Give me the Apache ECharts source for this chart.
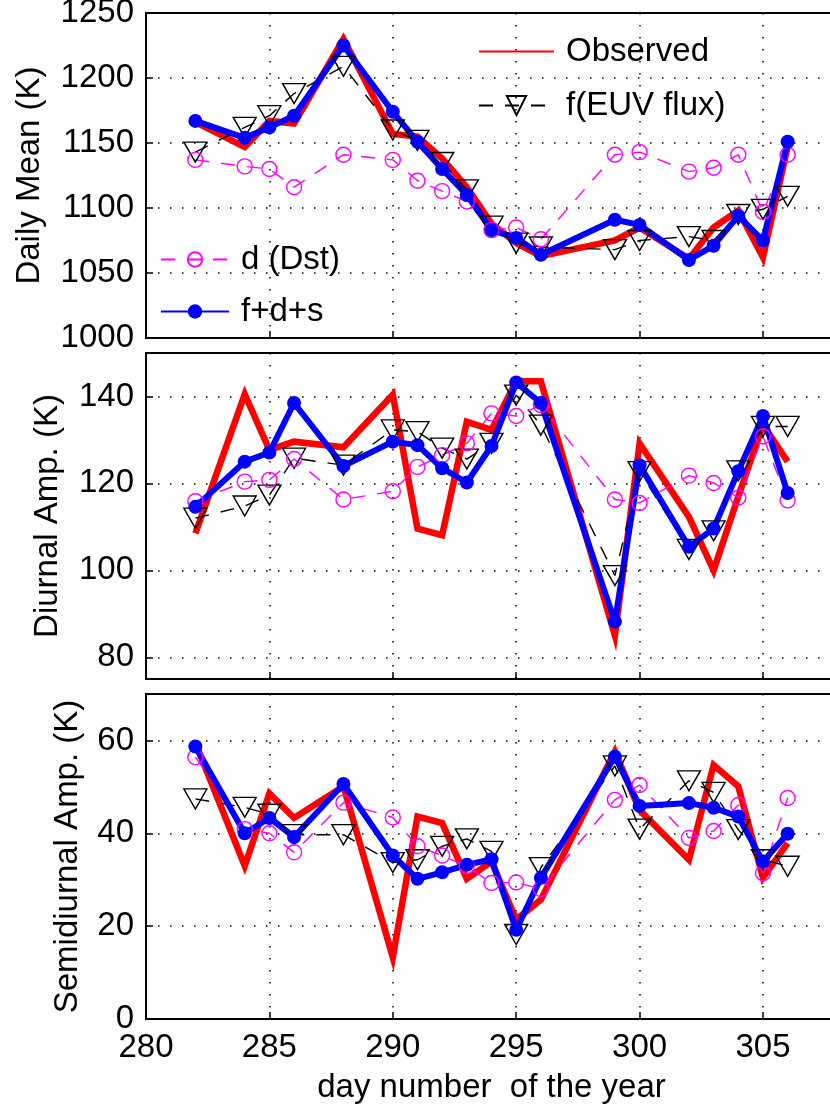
<!DOCTYPE html>
<html lang="en">
<head>
  <meta charset="UTF-8">
  <title>Daily mean, diurnal and semidiurnal amplitude</title>
  <style>
    html, body { margin: 0; padding: 0; background: #fff; }
    #chart { width: 830px; height: 1112px; }
  </style>
  <script src="https://cdn.jsdelivr.net/npm/echarts@6/dist/echarts.min.js"></script>
</head>
<body>
  <div id="chart"></div>
  <script>
    // day numbers of the year
    var days = [282, 284, 285, 286, 288, 290, 291, 292, 293, 294, 295, 296, 299, 300, 302, 303, 304, 305, 306];

    // daily mean (K)
    var obsMean = [1166, 1147, 1167, 1165, 1230, 1157, 1155, 1138, 1116, 1088, 1073, 1063, 1075, 1085, 1061, 1085, 1098, 1062, 1147];
    var euvMean = [1143, 1162, 1171, 1188, 1209, 1160, 1152, 1135, 1114, 1086, 1073, 1070, 1068, 1075, 1078, 1075, 1095, 1099, 1109];
    var dstMean = [1137, 1132, 1130, 1116, 1141, 1137, 1121, 1113, 1105, 1083, 1085, 1076, 1141, 1143, 1128, 1131, 1141, 1097, 1141];
    var fdsMean = [1167, 1154, 1162, 1171, 1225, 1174, 1151, 1130, 1110, 1083, 1077, 1064, 1091, 1087, 1060, 1071, 1094, 1075, 1151];

    // diurnal amplitude (K)
    var obsDiurnal = [108.5, 140.5, 127.7, 129.6, 128.3, 140.4, 109.6, 108.1, 134.2, 132.3, 143.5, 143.5, 85, 129.2, 112.3, 100, 117, 133.5, 125];
    var euvDiurnal = [112, 114.8, 117.3, 125.8, 124.2, 132.3, 131.9, 128.1, 125.6, 129.2, 140.3, 133.4, 98.8, 122.7, 104.8, 109.1, 122.9, 133.1, 133.1];
    var dstDiurnal = [115.9, 120.4, 120.8, 125.6, 116.3, 118.2, 123.8, 126.5, 129.2, 136.1, 135.5, 138, 116.3, 115.5, 121.8, 120.1, 116.7, 130.8, 116.1];
    var fdsDiurnal = [114.6, 125, 127.1, 138.5, 124, 129.6, 128.8, 123.5, 120.2, 128.6, 143.2, 138.5, 88.2, 124.2, 105.4, 109.6, 122.8, 135.5, 117.8];

    // semidiurnal amplitude (K)
    var obsSemi = [59.5, 33, 48.6, 43.3, 50.1, 13.3, 43.6, 42.2, 30.2, 33.9, 21.4, 25.7, 57.6, 45, 34.3, 54.7, 50.1, 30.4, 37.9];
    var euvSemi = [47.4, 45.6, 44.1, 39.7, 39.7, 33.7, 34.3, 37.2, 38.8, 36.1, 18.2, 32.6, 54.5, 40.9, 51.3, 48.8, 40.8, 34.3, 32.9];
    var dstSemi = [56.4, 40.9, 40, 35.9, 46.6, 43.4, 37.2, 35.2, 32.9, 29.3, 29.4, 28, 47.2, 50.4, 39, 40.5, 46.1, 31.4, 47.6];
    var fdsSemi = [58.7, 40, 43.3, 39.2, 50.6, 35.2, 30.2, 31.6, 33.2, 34.4, 19.2, 30.4, 56.5, 45.9, 46.5, 45.5, 43.6, 33.9, 39.9];

    // tick labels
    var dayTicks = [280, 285, 290, 295, 300, 305];
    var meanTicks = [1000, 1050, 1100, 1150, 1200, 1250];
    var diurnalTicks = [80, 100, 120, 140];
    var semiTicks = [0, 20, 40, 60];

    var FONT = 'Liberation Sans';
    var FS = 33;

    function pairs(vals) {
      return days.map(function (d, i) { return [d, vals[i]]; });
    }
    function plain(v) { return String(v); } // no thousands separator

    var gridLine = { show: true, lineStyle: { color: '#000', width: 1.5, type: [1.5, 10.5] } };
    var tick = { show: true, inside: true, length: 7, lineStyle: { color: '#000', width: 1.5 } };

    function xAxis(idx, showLabel) {
      var ax = {
        type: 'value', gridIndex: idx, min: 280, max: 308,
        axisLine: { show: false },
        axisTick: Object.assign({ customValues: dayTicks }, tick),
        splitLine: gridLine,
        axisLabel: {
          show: showLabel, customValues: dayTicks, margin: 12, formatter: plain,
          fontSize: FS, fontFamily: FONT, color: '#000'
        }
      };
      if (showLabel) {
        ax.name = 'day number  of the year';
        ax.nameLocation = 'middle';
        ax.nameGap = 52;
        ax.nameTextStyle = { fontSize: FS, fontFamily: FONT, color: '#000' };
      }
      return ax;
    }

    function yAxis(idx, min, max, ticks, name, gap) {
      return {
        type: 'value', gridIndex: idx, min: min, max: max,
        name: name, nameLocation: 'middle', nameGap: gap,
        nameTextStyle: { fontSize: FS, fontFamily: FONT, color: '#000' },
        axisLine: { show: false },
        axisTick: Object.assign({ customValues: ticks }, tick),
        splitLine: gridLine,
        axisLabel: { customValues: ticks, margin: 12, formatter: plain, fontSize: FS, fontFamily: FONT, color: '#000' }
      };
    }

    function panelSeries(idx, obs, euv, dst, fds) {
      return [{
        name: 'Observed', type: 'line', xAxisIndex: idx, yAxisIndex: idx,
        data: pairs(obs), symbol: 'none',
        itemStyle: { color: '#ff0000' },
        lineStyle: { color: '#ff0000', width: 6.5, join: 'miter', miterLimit: 10 }
      }, {
        name: 'f(EUV flux)', type: 'line', xAxisIndex: idx, yAxisIndex: idx,
        data: pairs(euv), symbol: 'triangle', symbolRotate: 180, symbolSize: [23, 20],
        itemStyle: { color: 'rgba(0,0,0,0)', borderColor: '#000', borderWidth: 1.4 },
        lineStyle: { color: '#000', width: 1.4, type: [14, 12] }
      }, {
        name: 'd (Dst)', type: 'line', xAxisIndex: idx, yAxisIndex: idx,
        data: pairs(dst), symbol: 'circle', symbolSize: 15,
        itemStyle: { color: 'rgba(0,0,0,0)', borderColor: '#ff00ff', borderWidth: 1.4 },
        lineStyle: { color: '#ff00ff', width: 1.4, type: [14, 12] }
      }, {
        name: 'f+d+s', type: 'line', xAxisIndex: idx, yAxisIndex: idx,
        data: pairs(fds), symbol: 'circle', symbolSize: 14,
        itemStyle: { color: '#0000ff' },
        lineStyle: { color: '#0000ff', width: 6, join: 'round' }
      }];
    }

    var myChart = echarts.init(document.getElementById('chart'), null, { renderer: 'canvas' });

    var gridBase = { left: 146, width: 691, show: true, borderColor: '#000', borderWidth: 2, outerBoundsMode: 'none', containLabel: false };

    var option = {
      animation: false,
      backgroundColor: '#fff',
      grid: [
        Object.assign({ top: 13, height: 325 }, gridBase),
        Object.assign({ top: 353, height: 326 }, gridBase),
        Object.assign({ top: 694, height: 325 }, gridBase)
      ],
      xAxis: [xAxis(0, false), xAxis(1, false), xAxis(2, true)],
      yAxis: [
        yAxis(0, 1000, 1250, meanTicks, 'Daily Mean (K)', 100),
        yAxis(1, 75, 150, diurnalTicks, 'Diurnal Amp. (K)', 82),
        yAxis(2, 0, 70, semiTicks, 'Semidiurnal Amp. (K)', 62)
      ],
      legend: [{
        orient: 'vertical', left: 478, top: 35, padding: 0,
        itemWidth: 75, itemHeight: 24, itemGap: 21,
        selectedMode: false,
        textStyle: { fontSize: FS, fontFamily: FONT, color: '#000', padding: [0, 0, 0, 7] },
        data: [{ name: 'Observed', itemStyle: { opacity: 0 } }, { name: 'f(EUV flux)' }]
      }, {
        orient: 'vertical', left: 160, top: 243, padding: 0,
        itemWidth: 68, itemHeight: 18, itemGap: 19,
        selectedMode: false,
        textStyle: { fontSize: FS, fontFamily: FONT, color: '#000', padding: [0, 0, 0, 7] },
        data: ['d (Dst)', 'f+d+s']
      }],
      series: [].concat(
        panelSeries(0, obsMean, euvMean, dstMean, fdsMean),
        panelSeries(1, obsDiurnal, euvDiurnal, dstDiurnal, fdsDiurnal),
        panelSeries(2, obsSemi, euvSemi, dstSemi, fdsSemi)
      )
    };

    myChart.setOption(option);
  </script>
</body>
</html>
